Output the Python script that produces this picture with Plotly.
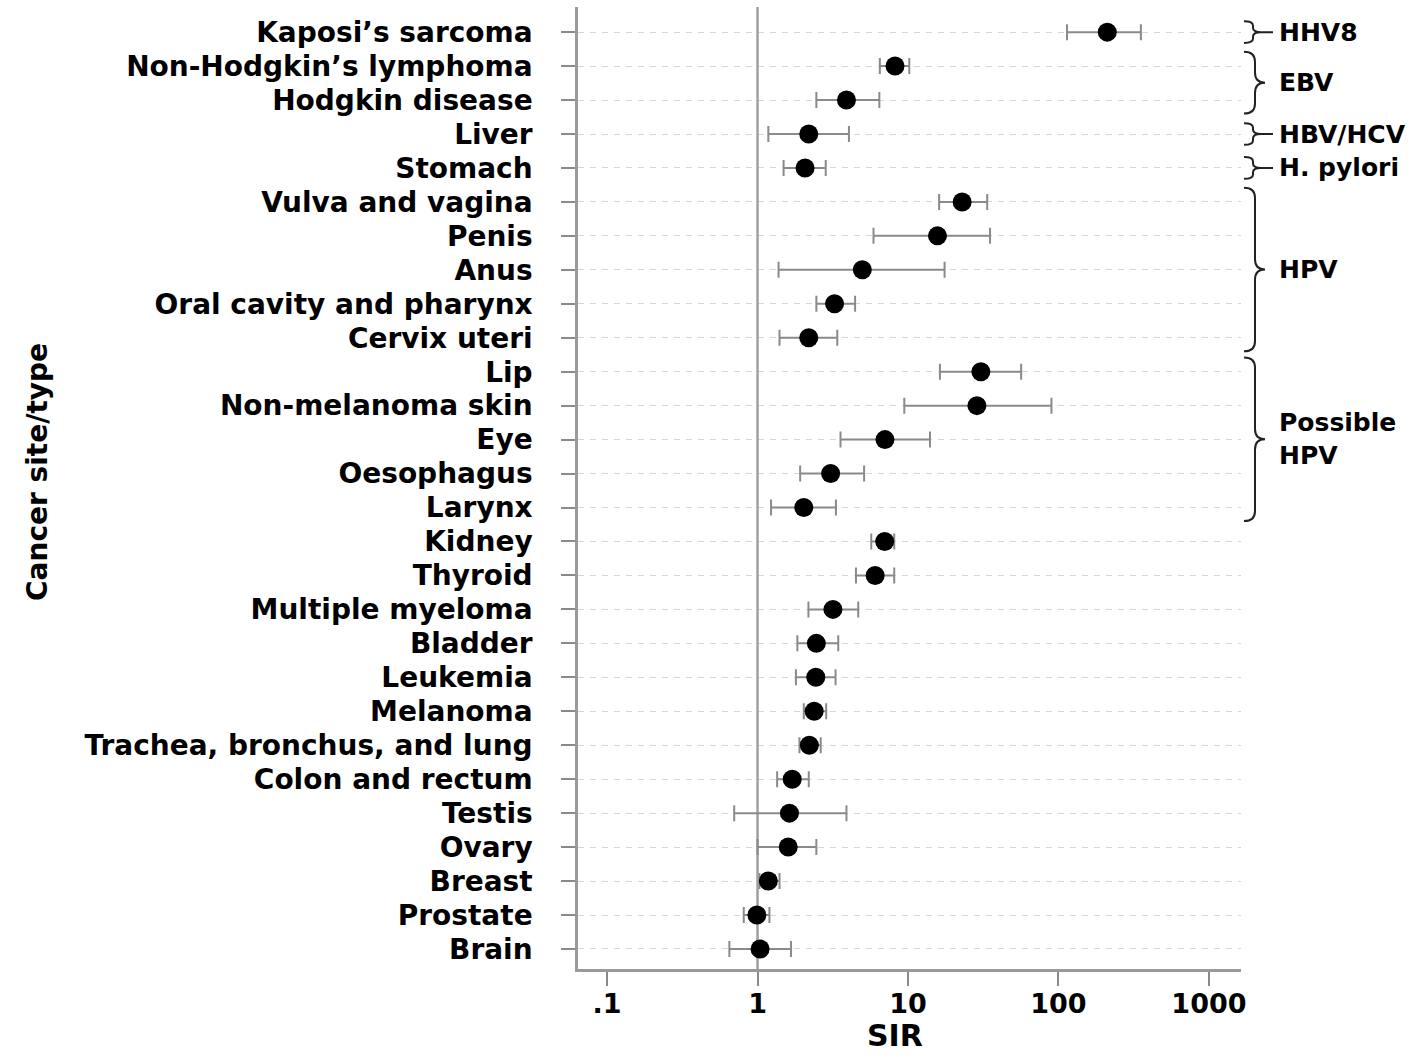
import plotly.graph_objects as go

# ---------------- data ----------------
cancers = [
    "Kaposi’s sarcoma", "Non-Hodgkin’s lymphoma", "Hodgkin disease", "Liver", "Stomach",
    "Vulva and vagina", "Penis", "Anus", "Oral cavity and pharynx", "Cervix uteri",
    "Lip", "Non-melanoma skin", "Eye", "Oesophagus", "Larynx",
    "Kidney", "Thyroid", "Multiple myeloma", "Bladder", "Leukemia",
    "Melanoma", "Trachea, bronchus, and lung", "Colon and rectum", "Testis", "Ovary",
    "Breast", "Prostate", "Brain",
]
sir = [211, 8.2, 3.9, 2.19, 2.07,
       22.9, 15.7, 4.97, 3.25, 2.19,
       30.5, 28.7, 7.03, 3.06, 2.03,
       7.0, 6.05, 3.17, 2.46, 2.44,
       2.38, 2.21, 1.70, 1.63, 1.60,
       1.18, 0.99, 1.04]
ci_low = [114, 6.5, 2.46, 1.18, 1.49,
          16.1, 5.9, 1.38, 2.46, 1.40,
          16.3, 9.45, 3.56, 1.92, 1.23,
          5.7, 4.51, 2.18, 1.84, 1.80,
          2.03, 1.90, 1.35, 0.70, 1.0,
          1.03, 0.81, 0.65]
ci_high = [353, 10.2, 6.45, 4.05, 2.84,
           33.6, 35.1, 17.5, 4.45, 3.39,
           56.5, 89.8, 14.0, 5.11, 3.32,
           8.1, 8.1, 4.67, 3.44, 3.3,
           2.86, 2.63, 2.19, 3.9, 2.46,
           1.40, 1.2, 1.67]
x_tickvals = [0.1, 1, 10, 100, 1000]
x_ticktext = [".1", "1", "10", "100", "1000"]

# infection groups: (label, first row, last row)
groups = [
    ("HHV8", 0, 0),
    ("EBV", 1, 2),
    ("HBV/HCV", 3, 3),
    ("H. pylori", 4, 4),
    ("HPV", 5, 9),
    ("Possible<br>HPV", 10, 14),
]

FONT = "DejaVu Sans"
rows = list(range(len(cancers)))

# layout geometry (pixels)
W, H = 1424, 1057
L, R, T, B = 578, 183, 7, 88
PW = W - L - R


def px2paper(px):
    return (px - L) / PW


def py2paper(py):
    return (H - B - py) / (H - B - T)


fig = go.Figure()

# reference line at SIR = 1
fig.add_trace(go.Scatter(
    x=[1, 1], y=[-0.74, len(cancers) - 1 + 0.59], mode="lines",
    line=dict(color="#a0a0a0", width=2.5), hoverinfo="skip", showlegend=False,
    cliponaxis=False,
))

fig.add_trace(go.Scatter(
    x=sir, y=rows, mode="markers",
    marker=dict(color="black", size=19, symbol="circle"),
    error_x=dict(type="data", symmetric=False,
                 array=[h - v for h, v in zip(ci_high, sir)],
                 arrayminus=[v - l for v, l in zip(sir, ci_low)],
                 color="#8a8a8a", thickness=2, width=8),
    showlegend=False,
))

# braces and group labels
shapes = []
annotations = []
for label, r0, r1 in groups:
    if r0 == r1:
        yt, yb = r0 - 0.32, r1 + 0.32
        xl, xs, xt, xtail = px2paper(1244), px2paper(1253), px2paper(1261), px2paper(1273)
        rr = 0.13
    else:
        yt, yb = r0 - 0.42, r1 + 0.40
        xl, xs, xt, xtail = px2paper(1244), px2paper(1255), px2paper(1265), None
        rr = 0.3
    ym = (yt + yb) / 2
    path = (f"M {xl},{yt} Q {xs},{yt} {xs},{yt + rr} L {xs},{ym - rr} "
            f"Q {xs},{ym} {xt},{ym} Q {xs},{ym} {xs},{ym + rr} "
            f"L {xs},{yb - rr} Q {xs},{yb} {xl},{yb}")
    if xtail is not None:
        path += f" M {xt},{ym} L {xtail},{ym}"
    shapes.append(dict(type="path", path=path, xref="paper", yref="y",
                       line=dict(color="#222222", width=2)))
    annotations.append(dict(x=px2paper(1277), y=ym, xref="paper", yref="y",
                            text=label, showarrow=False, xanchor="left",
                            yanchor="middle", align="left",
                            font=dict(family=FONT, size=25, color="black",
                                      weight="bold")))

annotations.append(dict(x=px2paper(37), y=py2paper(472), xref="paper",
                        yref="paper", text="Cancer site/type", textangle=-90,
                        showarrow=False, xanchor="center", yanchor="middle",
                        font=dict(family=FONT, size=28, color="black",
                                  weight="bold")))
annotations.append(dict(x=px2paper(895), y=py2paper(1055), xref="paper",
                        yref="paper", text="SIR", showarrow=False,
                        xanchor="center", yanchor="bottom",
                        font=dict(family=FONT, size=30, color="black",
                                  weight="bold")))

fig.update_layout(
    width=W, height=H,
    margin=dict(l=L, r=R, t=T, b=B, pad=0),
    paper_bgcolor="white", plot_bgcolor="white",
    shapes=shapes, annotations=annotations,
    showlegend=False,
    xaxis=dict(type="log", range=[-1.193, 3.213],
               tickvals=x_tickvals, ticktext=x_ticktext,
               ticks="outside", ticklen=14, tickwidth=1.5, tickcolor="#8a8a8a",
               showline=True, linecolor="#9a9a9a", linewidth=2.5,
               showgrid=False, zeroline=False,
               tickfont=dict(family=FONT, size=27, color="black", weight="bold"),
               ticklabelstandoff=-5),
    yaxis=dict(range=[len(cancers) - 1 + 0.59, -0.74],
               tickvals=rows, ticktext=cancers,
               ticks="outside", ticklen=14, tickwidth=1.5, tickcolor="#8a8a8a",
               showline=True, linecolor="#9a9a9a", linewidth=2.5,
               showgrid=True, gridcolor="#d6d6d6", gridwidth=1, griddash="6px,6px",
               zeroline=False,
               tickfont=dict(family=FONT, size=28, color="black", weight="bold"),
               ticklabelstandoff=23),
)

fig.write_html("out.html")
